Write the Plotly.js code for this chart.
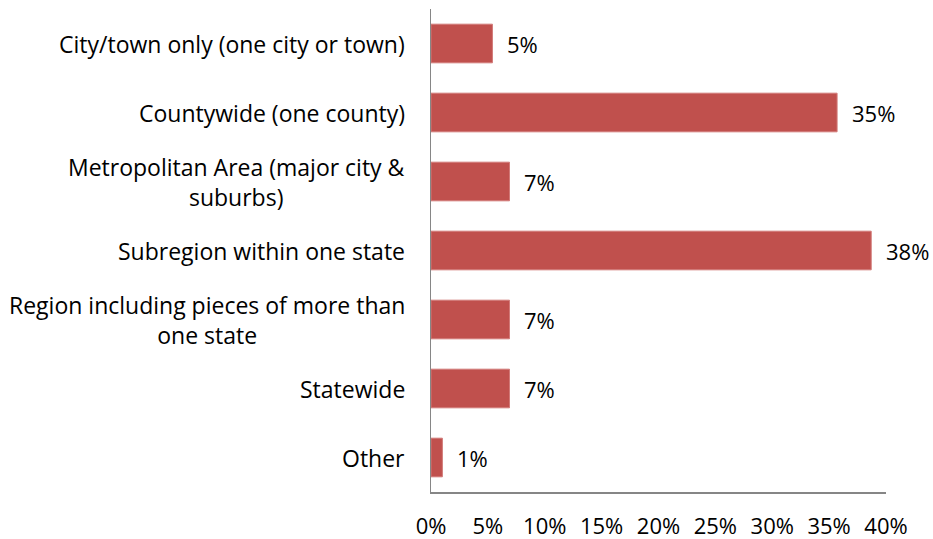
<!DOCTYPE html>
<html>
<head>
<meta charset="utf-8">
<script src="https://cdn.plot.ly/plotly-3.0.1.min.js"></script>
<style>html,body{margin:0;padding:0;background:#fff}#chart{width:933px;height:539px}</style>
</head>
<body>
<div id="chart"></div>
<script>
const categories = [
  "City/town only (one city or town)",
  "Countywide (one county)",
  "Metropolitan Area (major city &<br>suburbs)",
  "Subregion within one state",
  "Region including pieces of more than<br>one state",
  "Statewide",
  "Other"
];
const values = [5.4, 35.7, 6.9, 38.7, 6.9, 6.9, 1.0];
const valueLabels = ["5%", "35%", "7%", "38%", "7%", "7%", "1%"];
const tickVals = [0, 5, 10, 15, 20, 25, 30, 35, 40];
const tickText = ["0%", "5%", "10%", "15%", "20%", "25%", "30%", "35%", "40%"];

const FONT = "'Open Sans', sans-serif";
const plotW = 933 - 431 - 47;

const annotations = [];
categories.forEach((c, i) => {
  annotations.push({
    xref: 'paper', yref: 'y', x: -24 / plotW, y: c, text: c,
    xanchor: 'right', yanchor: 'middle', align: 'center', showarrow: false,
    font: {family: FONT, size: 23, color: '#000'}
  });
  annotations.push({
    xref: 'x', yref: 'y', x: values[i], y: c, text: valueLabels[i],
    xanchor: 'left', yanchor: 'middle', xshift: 13, showarrow: false,
    font: {family: FONT, size: 22, color: '#000'}
  });
});

Plotly.newPlot('chart', [{
  type: 'bar', orientation: 'h', x: values, y: categories,
  marker: {color: '#C0504D', line: {color: '#D27A78', width: 1}},
  hoverinfo: 'none'
}], {
  width: 933, height: 539,
  margin: {l: 431, r: 47, t: 9, b: 47},
  paper_bgcolor: '#fff', plot_bgcolor: '#fff',
  bargap: 0.44,
  showlegend: false,
  xaxis: {
    range: [0, 40], tickvals: tickVals, ticktext: tickText,
    showgrid: false, zeroline: false, showline: true, linecolor: '#868686', linewidth: 1.5,
    ticks: '', ticklabelstandoff: 14,
    tickfont: {family: FONT, size: 22, color: '#000'}, fixedrange: true
  },
  yaxis: {
    autorange: 'reversed', showticklabels: false, ticks: '',
    showgrid: false, zeroline: false, showline: true, linecolor: '#868686', linewidth: 1.5,
    fixedrange: true
  },
  annotations: annotations
}, {displayModeBar: false, staticPlot: true});
</script>
</body>
</html>
